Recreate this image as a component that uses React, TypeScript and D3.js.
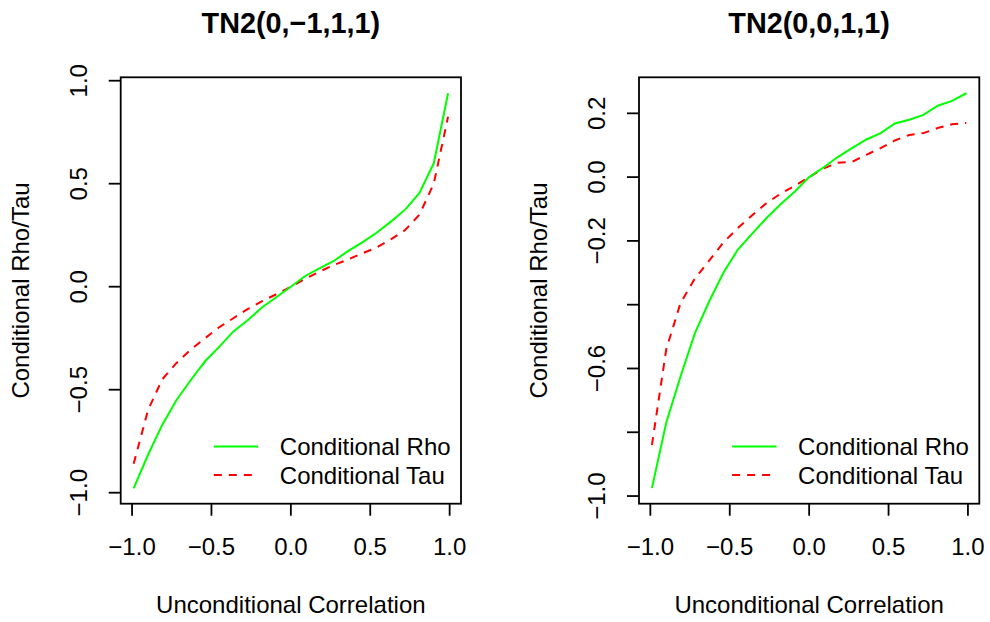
import React, { useEffect, useRef } from 'react';
import * as d3 from 'd3';

// Unconditional correlation grid (x) shared by both panels
const xValues = [
  -0.99, -0.9, -0.81, -0.72, -0.63, -0.54, -0.45, -0.36, -0.27, -0.18, -0.09, 0,
  0.09, 0.18, 0.27, 0.36, 0.45, 0.54, 0.63, 0.72, 0.81, 0.9, 0.99
];

// TN2(0,-1,1,1)
const rhoLeft = [
  -0.979, -0.817, -0.671, -0.55, -0.453, -0.362, -0.291, -0.216, -0.162, -0.1, -0.05, 0,
  0.052, 0.089, 0.125, 0.173, 0.215, 0.262, 0.316, 0.374, 0.455, 0.599, 0.939
];
const tauLeft = [
  -0.86, -0.6, -0.45, -0.37, -0.305, -0.25, -0.196, -0.152, -0.108, -0.07, -0.036, 0,
  0.038, 0.073, 0.105, 0.132, 0.162, 0.19, 0.23, 0.275, 0.35, 0.5, 0.825
];

// TN2(0,0,1,1)
const rhoRight = [
  -0.975, -0.77, -0.625, -0.49, -0.39, -0.3, -0.228, -0.178, -0.129, -0.085, -0.045, 0,
  0.03, 0.063, 0.091, 0.118, 0.138, 0.168, 0.18, 0.195, 0.224, 0.239, 0.263
];
const tauRight = [
  -0.84, -0.54, -0.395, -0.318, -0.262, -0.205, -0.16, -0.12, -0.082, -0.052, -0.027, 0,
  0.027, 0.045, 0.048, 0.07, 0.091, 0.115, 0.132, 0.138, 0.154, 0.166, 0.17
];

const xTicks = [-1, -0.5, 0, 0.5, 1];
const yTicksLeft = [-1, -0.5, 0, 0.5, 1];
const yTicksRight = [-1, -0.8, -0.6, -0.4, -0.2, 0, 0.2];
const yLabelsRight = [-1, -0.6, -0.2, 0, 0.2];

const legendLabels = ['Conditional Rho', 'Conditional Tau'];

const FONT = '"Liberation Sans", Arial, Helvetica, sans-serif';

interface PanelSpec {
  title: string;
  rho: number[];
  tau: number[];
  yDomain: [number, number];
  yTicks: number[];
  yLabels: number[];
  left: number;
}

const panels: PanelSpec[] = [
  {
    title: 'TN2(0,\u22121,1,1)',
    rho: rhoLeft,
    tau: tauLeft,
    yDomain: [-1.0534, 1.0165],
    yTicks: yTicksLeft,
    yLabels: yTicksLeft,
    left: 120.7
  },
  {
    title: 'TN2(0,0,1,1)',
    rho: rhoRight,
    tau: tauRight,
    yDomain: [-1.024, 0.313],
    yTicks: yTicksRight,
    yLabels: yLabelsRight,
    left: 639
  }
];

const App: React.FC = () => {
  const svgRef = useRef<SVGSVGElement>(null);

  useEffect(() => {
    const svg = d3.select(svgRef.current);
    svg.selectAll('*').remove();

    const top = 77.3;
    const bottom = 503.7;
    const boxWidth = 340.3;
    const fmt = d3.format('.1f');

    panels.forEach(p => {
      const x = d3.scaleLinear().domain([-1.0715, 1.0715]).range([p.left, p.left + boxWidth]);
      const y = d3.scaleLinear().domain(p.yDomain).range([bottom, top]);
      const cx = p.left + boxWidth / 2;
      const g = svg.append('g');

      // Title
      g.append('text')
        .attr('x', cx)
        .attr('y', 32.7)
        .attr('text-anchor', 'middle')
        .style('font-family', FONT)
        .style('font-size', '28.8px')
        .style('font-weight', 'bold')
        .text(p.title);

      // Lines
      const line = d3.line<number>()
        .x((_, i) => x(xValues[i]))
        .y(d => y(d));

      g.append('path')
        .attr('d', line(p.tau))
        .attr('fill', 'none')
        .attr('stroke', '#ff0000')
        .attr('stroke-width', 2)
        .attr('stroke-dasharray', '8,7');

      g.append('path')
        .attr('d', line(p.rho))
        .attr('fill', 'none')
        .attr('stroke', '#00ff00')
        .attr('stroke-width', 2);

      // Box
      g.append('rect')
        .attr('x', p.left)
        .attr('y', top)
        .attr('width', boxWidth)
        .attr('height', bottom - top)
        .attr('fill', 'none')
        .attr('stroke', '#000')
        .attr('stroke-width', 1.8);

      // X axis ticks & labels
      xTicks.forEach(t => {
        g.append('line')
          .attr('x1', x(t)).attr('x2', x(t))
          .attr('y1', bottom).attr('y2', bottom + 12)
          .attr('stroke', '#000').attr('stroke-width', 1.8);
        g.append('text')
          .attr('x', x(t))
          .attr('y', 555)
          .attr('text-anchor', 'middle')
          .style('font-family', FONT)
          .style('font-size', '24px')
          .text(fmt(t));
      });

      // Y axis ticks & labels
      p.yTicks.forEach(t => {
        g.append('line')
          .attr('x1', p.left - 12).attr('x2', p.left)
          .attr('y1', y(t)).attr('y2', y(t))
          .attr('stroke', '#000').attr('stroke-width', 1.8);
      });
      p.yLabels.forEach(t => {
        const lx = p.left - 34;
        g.append('text')
          .attr('x', lx)
          .attr('y', y(t))
          .attr('text-anchor', 'middle')
          .attr('transform', `rotate(-90,${lx},${y(t)})`)
          .style('font-family', FONT)
          .style('font-size', '24px')
          .text(fmt(t));
      });

      // Axis titles
      g.append('text')
        .attr('x', cx)
        .attr('y', 613)
        .attr('text-anchor', 'middle')
        .style('font-family', FONT)
        .style('font-size', '24px')
        .text('Unconditional Correlation');

      const ty = (top + bottom) / 2;
      const tx = p.left - 92;
      g.append('text')
        .attr('x', tx)
        .attr('y', ty)
        .attr('text-anchor', 'middle')
        .attr('transform', `rotate(-90,${tx},${ty})`)
        .style('font-family', FONT)
        .style('font-size', '24px')
        .text('Conditional Rho/Tau');

      // Legend
      const lx0 = p.left + boxWidth - 247.2;
      const rows = [
        { label: legendLabels[0], color: '#00ff00', dash: null, ly: 446.5 },
        { label: legendLabels[1], color: '#ff0000', dash: '8,7', ly: 475 }
      ];
      rows.forEach(r => {
        g.append('line')
          .attr('x1', lx0).attr('x2', lx0 + 44.4)
          .attr('y1', r.ly).attr('y2', r.ly)
          .attr('stroke', r.color)
          .attr('stroke-width', 2)
          .attr('stroke-dasharray', r.dash);
        g.append('text')
          .attr('x', lx0 + 66)
          .attr('y', r.ly + 8.5)
          .style('font-family', FONT)
          .style('font-size', '24px')
          .text(r.label);
      });
    });
  }, []);

  return (
    <svg
      ref={svgRef}
      width={990}
      height={622}
      style={{ position: 'absolute', left: 0, top: 0, background: '#fff', display: 'block' }}
    />
  );
};

export default App;
